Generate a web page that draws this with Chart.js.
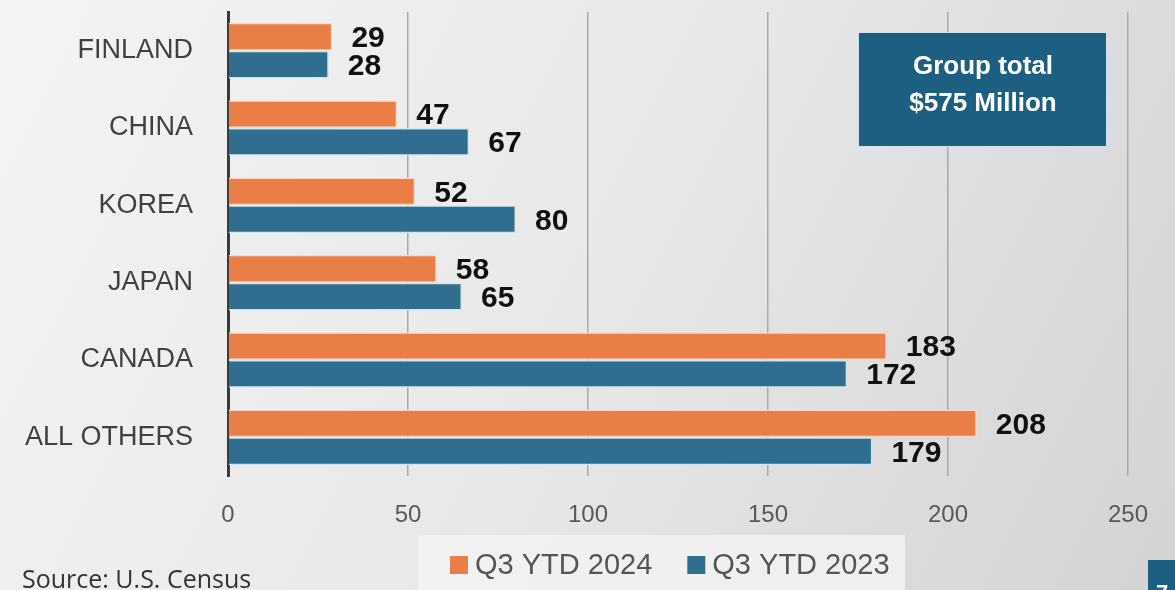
<!DOCTYPE html>
<html>
<head>
<meta charset="utf-8">
<script src="https://cdn.jsdelivr.net/npm/chart.js@4"></script>
<style>
  html, body { margin: 0; padding: 0; }
  #wrap { width: 1175px; height: 590px; position: relative; }
</style>
</head>
<body>
<div id="wrap"><canvas id="tradeChart" width="1175" height="590"></canvas></div>
<script>
// Chart data
const countries = ['FINLAND', 'CHINA', 'KOREA', 'JAPAN', 'CANADA', 'ALL OTHERS'];
const ytd2024 = [29, 47, 52, 58, 183, 208];
const ytd2023 = [28, 67, 80, 65, 172, 179];
const seriesNames = ['Q3 YTD 2024', 'Q3 YTD 2023'];
const xTicks = [0, 50, 100, 150, 200, 250];
const totalNote = ['Group total', '$575 Million'];
const sourceNote = 'Source: U.S. Census';

const ORANGE = '#E97F47';
const BLUE = '#2F6E8F';
const NARROW = "'Liberation Sans Narrow', 'Arial Narrow', 'Liberation Sans', sans-serif";

// Background gradient
const backgroundPlugin = {
    id: 'bg',
    beforeDraw(chart) {
        const c = chart.ctx;
        const g = c.createLinearGradient(0, 0, chart.width, chart.height);
        g.addColorStop(0, '#f4f4f4');
        g.addColorStop(0.5, '#e8e8e8');
        g.addColorStop(1, '#d3d3d3');
        c.save();
        c.fillStyle = g;
        c.fillRect(0, 0, chart.width, chart.height);
        c.restore();
    }
};

// Value labels next to bars
const valueLabels = {
    id: 'valueLabels',
    afterDatasetsDraw(chart) {
        const c = chart.ctx;
        c.save();
        c.font = "bold 30px 'Liberation Sans', Arial, sans-serif";
        c.fillStyle = '#111';
        c.textBaseline = 'middle';
        c.textAlign = 'left';
        chart.data.datasets.forEach((ds, i) => {
            chart.getDatasetMeta(i).data.forEach((bar, j) => {
                c.fillText(ds.data[j], bar.x + 19, bar.y + 2);
            });
        });
        c.restore();
    }
};

// Extras: note box, legend, source, page tab
const extras = {
    id: 'extras',
    afterDraw(chart) {
        const c = chart.ctx;
        c.save();
        // group total box
        c.fillStyle = '#1D5F81';
        c.fillRect(858, 32, 249, 115);
        c.strokeStyle = '#cfe3ee';
        c.lineWidth = 1;
        c.strokeRect(858.5, 32.5, 248, 114);
        c.fillStyle = '#fff';
        c.font = "bold 26px " + NARROW;
        c.textAlign = 'center';
        c.textBaseline = 'middle';
        c.fillText(totalNote[0], 983, 67);
        c.fillText(totalNote[1], 983, 104);

        // legend
        c.fillStyle = 'rgba(242,242,242,0.85)';
        c.fillRect(418, 535, 487, 60);
        c.font = "29px " + NARROW;
        c.textAlign = 'left';
        let x = 450;
        chart.data.datasets.forEach(ds => {
            c.fillStyle = ds.backgroundColor;
            c.fillRect(x, 556, 18, 18);
            c.fillStyle = '#555';
            c.fillText(ds.label, x + 25, 566);
            x += 25 + c.measureText(ds.label).width + 35;
        });

        // source
        c.fillStyle = '#333';
        c.font = "25px 'Open Sans', sans-serif";
        c.textBaseline = 'alphabetic';
        c.fillText(sourceNote, 22, 588);

        // page tab
        c.fillStyle = '#1D5F81';
        c.fillRect(1148, 560, 27, 30);
        c.fillStyle = '#fff';
        c.font = "bold 22px 'Liberation Sans', sans-serif";
        c.fillText('7', 1156, 600);
        c.restore();
    }
};

const ctx = document.getElementById('tradeChart').getContext('2d');
const chart = new Chart(ctx, {
    type: 'bar',
    data: {
        labels: countries,
        datasets: [{
            label: seriesNames[0],
            data: ytd2024,
            backgroundColor: ORANGE,
            borderColor: '#f8d9c6',
            borderWidth: 1.5
        }, {
            label: seriesNames[1],
            data: ytd2023,
            backgroundColor: BLUE,
            borderColor: '#cfe6f2',
            borderWidth: 1.5
        }]
    },
    options: {
        indexAxis: 'y',
        responsive: false,
        animation: false,
        devicePixelRatio: 1,
        categoryPercentage: 0.72,
        barPercentage: 1,
        layout: { padding: { left: 0, right: 47, top: 12, bottom: 0 } },
        plugins: {
            legend: { display: false },
            tooltip: { enabled: false }
        },
        scales: {
            x: {
                min: 0,
                max: 250,
                afterBuildTicks(scale) {
                    scale.ticks = xTicks.map(v => ({ value: v }));
                },
                afterFit(scale) { scale.height = 114; },
                grid: { color: '#a9a9a9', lineWidth: 1.5, drawTicks: false },
                border: { display: false },
                ticks: {
                    padding: 25,
                    color: '#595959',
                    font: { family: NARROW, size: 24 }
                }
            },
            y: {
                afterFit(scale) {
                    scale.width = 228;
                    scale.paddingTop = 0;
                    scale.paddingBottom = 0;
                },
                grid: { display: false, drawTicks: false },
                border: { display: true, color: '#3a3a3a', width: 3 },
                ticks: {
                    padding: 35,
                    color: '#404040',
                    font: { family: NARROW, size: 27 }
                }
            }
        }
    },
    plugins: [backgroundPlugin, valueLabels, extras]
});
</script>
</body>
</html>
